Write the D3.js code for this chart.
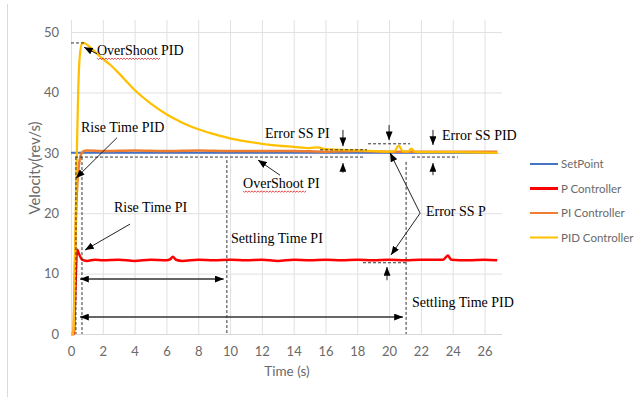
<!DOCTYPE html>
<html>
<head>
<meta charset="utf-8">
<script src="https://cdn.jsdelivr.net/npm/d3@7"></script>
<style>
  body { margin: 0; background: #fff; }
  svg text { font-family: Lato, "Liberation Sans", sans-serif; }
  .note { font-family: "Liberation Serif", "Times New Roman", serif; font-size: 14px; fill: #000; }
</style>
</head>
<body>
<svg id="chart" width="634" height="397"></svg>
<script>
// series: [time (s), velocity (rev/s)]
var setPoint = [[0, 30], [26.8, 30]];
var pCtrl = [[0,0],[0.18,0],[0.25,5],[0.32,11],[0.38,14],[0.5,13.3],[0.69,12.3],[1,12.1],[1.5,12.3],[2,12.2],[3,12.3],[4,12.1],[5,12.3],[6,12.2],[6.25,12.4],[6.4,12.8],[6.6,12.3],[7,12.1],[8,12.3],[9,12.2],[10,12.3],[11,12.2],[12,12.3],[13,12.1],[14,12.3],[15,12.2],[16,12.3],[17,12.2],[18,12.3],[19,12.2],[20,12.3],[21,12.2],[22,12.3],[23.4,12.3],[23.7,13.0],[23.9,12.3],[25,12.2],[26,12.3],[26.8,12.2]];
var piCtrl = [[0,0],[0.15,0],[0.2,5],[0.3,18],[0.4,25],[0.5,28],[0.6,29.5],[0.75,30.2],[1,30.4],[2,30.3],[4,30.4],[6,30.3],[8,30.4],[10,30.3],[12,30.3],[14,30.3],[16,30.2],[18,30.3],[20,30.2],[22,30.2],[24,30.2],[26.8,30.2]];
var pidCtrl = [[0,0],[0.15,0],[0.25,12],[0.35,28],[0.45,40],[0.55,46],[0.7,48.2],[0.9,48.1],[1.2,47.5],[1.8,46],[2.5,44.5],[3,43.2],[4,40.4],[5,38.2],[6,36.4],[7,35],[8,33.9],[9,33.1],[10,32.4],[11,31.9],[12,31.5],[13,31.2],[14,31],[15,30.8],[15.5,30.9],[16,30.6],[17,30.5],[18,30.4],[19,30.3],[20,30.2],[20.35,30.3],[20.6,31.2],[20.85,30.3],[21.2,30.2],[21.4,30.7],[21.6,30.2],[22,30.1],[24,30.1],[26.8,30]];

var seriesNames = ["SetPoint", "P Controller", "PI Controller", "PID Controller"];
var seriesColors = ["#4472C4", "#FF0000", "#ED7D31", "#FFC000"];
var xTicks = [0, 2, 4, 6, 8, 10, 12, 14, 16, 18, 20, 22, 24, 26];
var yTicks = [0, 10, 20, 30, 40, 50];

// annotations, in data units
var notes = [
  {t: 1.63, v: 46.2, s: "OverShoot PID", wavy: 9},
  {t: 0.63, v: 33.5, s: "Rise Time PID"},
  {t: 2.70, v: 20.2, s: "Rise Time PI"},
  {t: 10.06, v: 15.1, s: "Settling Time PI"},
  {t: 21.44, v: 4.5, s: "Settling Time PID"},
  {t: 10.82, v: 24.2, s: "OverShoot PI", wavy: 9},
  {t: 12.2, v: 32.5, s: "Error SS PI"},
  {t: 23.33, v: 32.1, s: "Error SS PID"},
  {t: 22.32, v: 19.5, s: "Error SS P"}
];
// [t1, v1, t2, v2] arrow pointing at (t2, v2)
var arrows = [
  [1.63, 46.4, 0.82, 47.5],
  [2.89, 32.5, 0.31, 25.8],
  [3.71, 18.2, 0.88, 13.9],
  [13.14, 26.3, 11.76, 28.8],
  [17.1, 33.8, 17.1, 31.1],
  [17.1, 26.7, 17.1, 28.3],
  [20.0, 34.6, 20.0, 32.1],
  [22.76, 33.8, 22.76, 31.3],
  [22.76, 26.3, 22.76, 28.3],
  [21.95, 20.0, 20.06, 30.0],
  [21.95, 20.0, 20.12, 13.1],
  [19.87, 8.9, 19.87, 11.1]
];
var spans = [[0.57, 9.6, 9.1], [0.57, 20.87, 2.8]];
// dashed guides [t1, v1, t2, v2]
var guides = [
  [0, 48.2, 0.82, 48.2],
  [0.25, 29.3, 15.15, 29.3],
  [0.31, 29.3, 0.31, 0],
  [0.69, 29.3, 0.69, 0],
  [9.8, 28.8, 9.8, 0],
  [21.07, 28.5, 21.07, 0],
  [15.66, 30.5, 18.61, 30.5],
  [15.66, 29.3, 18.49, 29.3],
  [18.68, 31.5, 21.32, 31.5],
  [21.44, 29.3, 24.33, 29.3],
  [18.36, 11.8, 21.19, 11.8]
];

var svg = d3.select("#chart");

var x = d3.scaleLinear().domain([0, 27.1]).range([71, 502]);
var y = d3.scaleLinear().domain([0, 52]).range([334, 20]);

// outer frame edge
svg.append("line").attr("x1", 7.5).attr("x2", 7.5).attr("y1", 4).attr("y2", 397)
  .attr("stroke", "#D9D9D9");

var xAxis = svg.append("g")
  .attr("transform", "translate(0,334)")
  .call(d3.axisBottom(x).tickValues(xTicks).tickSize(-314).tickPadding(13));
var yAxis = svg.append("g")
  .attr("transform", "translate(71,0)")
  .call(d3.axisLeft(y).tickValues(yTicks).tickSize(-431).tickPadding(12));

[xAxis, yAxis].forEach(function(g) {
  g.select(".domain").remove();
  g.selectAll(".tick line").attr("stroke", "#E0E0E0");
  g.selectAll(".tick text").attr("fill", "#6A6A6A").style("font-size", "13px")
    .style("font-family", "Lato, 'Liberation Sans', sans-serif");
});
svg.append("line").attr("x1", 71).attr("x2", 502).attr("y1", 334.5).attr("y2", 334.5)
  .attr("stroke", "#D9D9D9");

svg.append("text").attr("x", 287).attr("y", 376).attr("text-anchor", "middle")
  .attr("fill", "#6A6A6A").style("font-size", "13.5px").text("Time (s)");
svg.append("text").attr("transform", "translate(40,168) rotate(-90)")
  .attr("text-anchor", "middle").attr("fill", "#6A6A6A").style("font-size", "15px")
  .text("Velocity(rev/s)");

var line = d3.line()
  .x(function(d) { return x(d[0]); })
  .y(function(d) { return y(d[1]); })
  .curve(d3.curveMonotoneX);

var allSeries = [setPoint, pCtrl, piCtrl, pidCtrl];
var widths = [2, 2.5, 2.5, 2.25];
allSeries.forEach(function(s, i) {
  svg.append("path")
    .datum(s)
    .attr("fill", "none")
    .attr("stroke", seriesColors[i])
    .attr("stroke-width", widths[i])
    .attr("stroke-linejoin", "round")
    .attr("d", line);
});

// legend
var leg = svg.append("g").selectAll("g").data(seriesNames).enter().append("g")
  .attr("transform", function(d, i) { return "translate(530," + (164 + i * 24.5) + ")"; });
leg.append("line").attr("x1", 0).attr("x2", 28)
  .attr("stroke", function(d, i) { return seriesColors[i]; })
  .attr("stroke-width", function(d, i) { return i == 1 ? 3 : 2; });
leg.append("text").attr("x", 31).attr("dy", "0.35em").attr("fill", "#6A6A6A")
  .style("font-size", "11.5px").text(function(d) { return d; });

// annotations
var defs = svg.append("defs");
defs.append("marker").attr("id", "head")
  .attr("markerUnits", "userSpaceOnUse").attr("viewBox", "0 0 10 8")
  .attr("refX", 10).attr("refY", 4).attr("markerWidth", 9).attr("markerHeight", 7)
  .attr("orient", "auto-start-reverse")
  .append("path").attr("d", "M0,0L10,4L0,8Z").attr("fill", "#000");

var ann = svg.append("g");
guides.forEach(function(g) {
  ann.append("line")
    .attr("x1", x(g[0])).attr("y1", y(g[1])).attr("x2", x(g[2])).attr("y2", y(g[3]))
    .attr("stroke", "#333").attr("stroke-width", 1).attr("stroke-dasharray", "3,2");
});
arrows.forEach(function(a) {
  ann.append("line")
    .attr("x1", x(a[0])).attr("y1", y(a[1])).attr("x2", x(a[2])).attr("y2", y(a[3]))
    .attr("stroke", "#222").attr("stroke-width", 1).attr("marker-end", "url(#head)");
});
spans.forEach(function(s) {
  ann.append("line")
    .attr("x1", x(s[0])).attr("y1", y(s[2])).attr("x2", x(s[1])).attr("y2", y(s[2]))
    .attr("stroke", "#333").attr("stroke-width", 1.5)
    .attr("marker-start", "url(#head)").attr("marker-end", "url(#head)");
});
notes.forEach(function(n) {
  var t = ann.append("text").attr("class", "note")
    .attr("x", x(n.t)).attr("y", y(n.v)).text(n.s);
  if (n.wavy) {
    var w = t.node().getSubStringLength(0, n.wavy);
    var x0 = x(n.t), y0 = y(n.v) + 3, p = "M" + x0 + "," + y0;
    for (var k = 0; k * 3 < w; k++) p += "l1.5,1.5l1.5,-1.5";
    ann.append("path").attr("d", p).attr("fill", "none")
      .attr("stroke", "#E02020").attr("stroke-width", 0.8);
  }
});
</script>
</body>
</html>
